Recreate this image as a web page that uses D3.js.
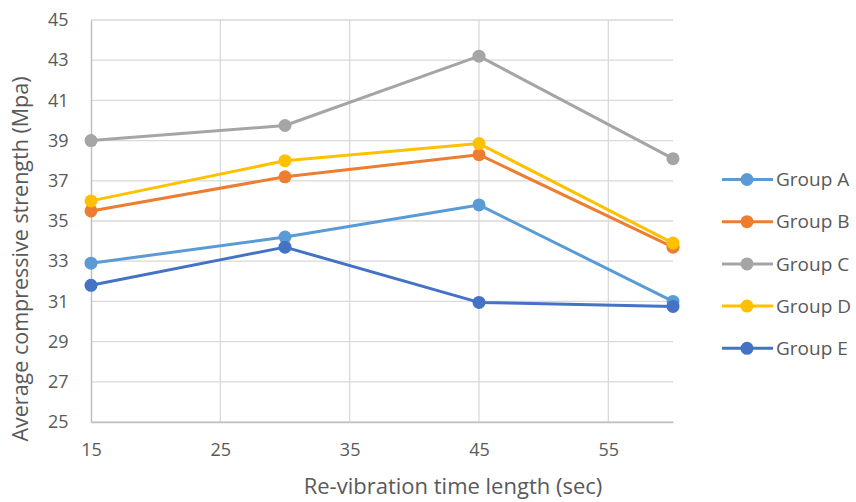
<!DOCTYPE html>
<html>
<head>
<meta charset="utf-8">
<script src="https://cdn.jsdelivr.net/npm/d3@7"></script>
<style>
  html, body { margin: 0; padding: 0; background: #fff; }
  svg { display: block; font-family: "Open Sans", "Noto Sans", sans-serif; }
</style>
</head>
<body>
<svg id="chart" width="856" height="502"></svg>
<script>
// Re-vibration time (sec) for each measurement
const times = [15, 30, 45, 60];
const groups = ["Group A", "Group B", "Group C", "Group D", "Group E"];
// Average compressive strength (MPa) per group
const groupA = [32.9, 34.2, 35.8, 31.0];
const groupB = [35.5, 37.2, 38.3, 33.7];
const groupC = [39.0, 39.75, 43.2, 38.1];
const groupD = [36.0, 38.0, 38.85, 33.9];
const groupE = [31.8, 33.7, 30.95, 30.75];
const xTicks = [15, 25, 35, 45, 55];
const yTicks = [25, 27, 29, 31, 33, 35, 37, 39, 41, 43, 45];
const colors = ["#5B9BD5", "#ED7D31", "#A5A5A5", "#FFC000", "#4472C4"];

const seriesValues = [groupA, groupB, groupC, groupD, groupE];
const series = groups.map((name, i) => ({
  name,
  color: colors[i],
  points: times.map((t, j) => ({ x: t, y: seriesValues[i][j] }))
}));

const svg = d3.select("#chart");
const plot = { left: 91, right: 673, top: 20, bottom: 422 };
const textColor = "#595959";

const x = d3.scaleLinear().domain([15, 60]).range([plot.left, plot.right]);
const y = d3.scaleLinear().domain([25, 45]).range([plot.bottom, plot.top]);

// gridlines
const grid = svg.append("g");
grid.selectAll("line.h").data(yTicks).join("line")
  .attr("x1", plot.left).attr("x2", plot.right)
  .attr("y1", d => y(d)).attr("y2", d => y(d))
  .attr("stroke", "#d9d9d9").attr("stroke-width", 1.3);
grid.selectAll("line.v").data(xTicks.filter(d => d > 15)).join("line")
  .attr("y1", plot.top).attr("y2", plot.bottom)
  .attr("x1", d => x(d)).attr("x2", d => x(d))
  .attr("stroke", "#d9d9d9").attr("stroke-width", 1.3);

// axes
const yAxis = svg.append("g")
  .attr("transform", `translate(${plot.left},0)`)
  .call(d3.axisLeft(y).tickValues(yTicks).tickSize(0).tickPadding(22.5));
const xAxis = svg.append("g")
  .attr("transform", `translate(0,${plot.bottom})`)
  .call(d3.axisBottom(x).tickValues(xTicks).tickSize(0).tickPadding(21));
[yAxis, xAxis].forEach(a => {
  a.select(".domain").attr("stroke", "#bfbfbf").attr("stroke-width", 1.5);
  a.selectAll("text").attr("fill", textColor).style("font-size", "18px")
    .style("font-family", "\"Open Sans\", sans-serif");
});

// axis titles
svg.append("text")
  .attr("x", 453).attr("y", 494)
  .attr("text-anchor", "middle").attr("fill", textColor)
  .style("font-size", "22px")
  .text("Re-vibration time length (sec)");
svg.append("text")
  .attr("transform", "translate(28,259) rotate(-90)")
  .attr("text-anchor", "middle").attr("fill", textColor)
  .style("font-size", "21.5px")
  .text("Average compressive strength (Mpa)");

// series lines and markers
const line = d3.line().x(d => x(d.x)).y(d => y(d.y));
series.forEach(s => {
  const g = svg.append("g");
  g.append("path").datum(s.points)
    .attr("d", line).attr("fill", "none")
    .attr("stroke", s.color).attr("stroke-width", 3)
    .attr("stroke-linejoin", "round");
  g.selectAll("circle").data(s.points).join("circle")
    .attr("cx", d => x(d.x)).attr("cy", d => y(d.y))
    .attr("r", 6.5).attr("fill", s.color);
});

// legend
const legend = svg.append("g");
series.forEach((s, i) => {
  const cy = 179.5 + i * 42.2;
  legend.append("line")
    .attr("x1", 722).attr("x2", 773).attr("y1", cy).attr("y2", cy)
    .attr("stroke", s.color).attr("stroke-width", 3);
  legend.append("circle").attr("cx", 747).attr("cy", cy).attr("r", 6.5)
    .attr("fill", s.color);
  legend.append("text").attr("x", 776).attr("y", cy).attr("dy", "0.35em")
    .attr("fill", textColor).style("font-size", "19px").text(s.name);
});
</script>
</body>
</html>
